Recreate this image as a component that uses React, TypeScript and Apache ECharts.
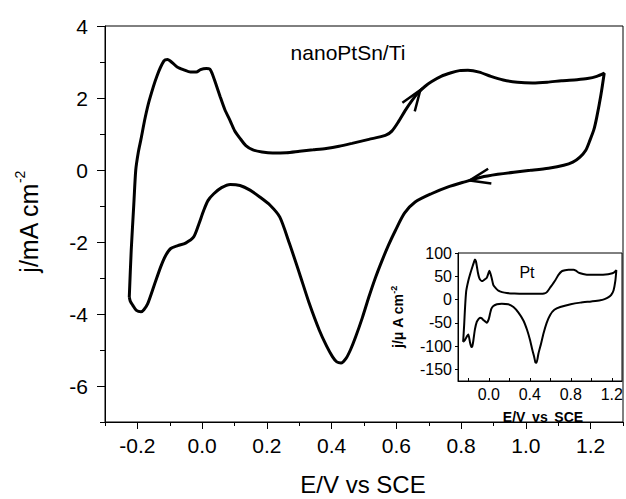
import React, { useEffect, useRef } from "react";
import * as echarts from "echarts";

// Main cyclic voltammogram (nanoPtSn/Ti), E in V vs SCE, j in mA cm^-2
const mainE = [
  -0.225, -0.219, -0.211, -0.205, -0.197, -0.189, -0.176, -0.163, -0.14, -0.118, -0.107, -0.092, -0.077, -0.056,
  -0.036, -0.018, -0.005, 0.013, 0.024, 0.031, 0.042, 0.056, 0.07, 0.087, 0.1, 0.117, 0.135, 0.157, 0.185, 0.218,
  0.26, 0.301, 0.343, 0.383, 0.423, 0.463, 0.515, 0.566, 0.586, 0.607, 0.627, 0.648, 0.668, 0.688, 0.708, 0.738,
  0.769, 0.795, 0.821, 0.856, 0.892, 0.93, 0.974, 1.02, 1.066, 1.11, 1.158, 1.19, 1.219, 1.242,
  1.232, 1.219, 1.21, 1.198, 1.185, 1.167, 1.145, 1.117, 1.07, 1.014, 0.963, 0.913, 0.862, 0.811, 0.76, 0.708,
  0.658, 0.625, 0.597, 0.576, 0.556, 0.535, 0.515, 0.495, 0.474, 0.458, 0.444, 0.429, 0.416, 0.403, 0.385, 0.362,
  0.33, 0.301, 0.27, 0.24, 0.21, 0.178, 0.148, 0.117, 0.087, 0.06, 0.036, 0.018, 0.005, -0.01, -0.026, -0.051,
  -0.075, -0.097, -0.113, -0.128, -0.148, -0.168, -0.18, -0.189, -0.203, -0.214, -0.222, -0.225,
];
const mainJ = [
  -3.53, -2.23, -0.95, 0.0, 0.5, 0.85, 1.45, 1.94, 2.6, 3.03, 3.07, 2.98, 2.86, 2.78,
  2.72, 2.72, 2.79, 2.82, 2.8, 2.68, 2.4, 2.03, 1.68, 1.36, 1.1, 0.88, 0.68, 0.56, 0.5, 0.47,
  0.48, 0.52, 0.56, 0.6, 0.66, 0.74, 0.85, 0.96, 1.08, 1.35, 1.65, 1.93, 2.15, 2.32, 2.45, 2.6,
  2.7, 2.76, 2.77, 2.72, 2.6, 2.5, 2.44, 2.42, 2.44, 2.48, 2.51, 2.54, 2.6, 2.69,
  2.1, 1.47, 1.12, 0.83, 0.55, 0.36, 0.22, 0.13, 0.05, -0.01, -0.06, -0.12, -0.2, -0.33, -0.47, -0.66,
  -0.89, -1.2, -1.68, -2.08, -2.51, -3.0, -3.53, -4.1, -4.64, -5.0, -5.24, -5.36, -5.33, -5.19, -4.9, -4.45,
  -3.68, -2.88, -2.05, -1.31, -0.98, -0.75, -0.56, -0.43, -0.4, -0.49, -0.66, -0.85, -1.12, -1.5, -1.86, -2.03,
  -2.1, -2.18, -2.38, -2.69, -3.2, -3.71, -3.88, -3.94, -3.9, -3.76, -3.64, -3.53,
];

// Inset: Pt electrode, E in V vs SCE, j in µA cm^-2
const insetE = [
  -0.25, -0.24, -0.232, -0.22, -0.2, -0.18, -0.16, -0.145, -0.135, -0.125, -0.115, -0.105, -0.095, -0.085,
  -0.07, -0.059, -0.04, -0.019, -0.005, 0.006, 0.018, 0.029, 0.045, 0.07, 0.094, 0.13, 0.176, 0.25, 0.338,
  0.42, 0.502, 0.54, 0.567, 0.6, 0.648, 0.68, 0.714, 0.745, 0.778, 0.81, 0.827, 0.85, 0.876, 0.92, 0.958,
  1.02, 1.088, 1.14, 1.186, 1.22, 1.245,
  1.235, 1.218, 1.195, 1.169, 1.13, 1.088, 1.0, 0.893, 0.8, 0.697, 0.64, 0.599, 0.565, 0.534, 0.51, 0.485,
  0.475, 0.465, 0.455, 0.443, 0.425, 0.404, 0.375, 0.338, 0.29, 0.241, 0.19, 0.127, 0.08, 0.045, 0.025,
  0.013, 0.0, -0.019, -0.035, -0.053, -0.07, -0.085, -0.1, -0.117, -0.135, -0.15, -0.16, -0.17, -0.183,
  -0.199, -0.21, -0.22, -0.235, -0.25,
];
const insetJ = [
  -91, -55, -20, 18, 40, 56, 70, 80, 86, 82, 70, 57, 48, 43,
  40, 40, 43, 47, 55, 62, 55, 46, 31, 24, 19, 16, 14, 13, 12.5,
  12.5, 12.5, 13, 16, 26, 41, 53, 61, 63, 64, 64, 64, 62, 58, 55, 53.5,
  53.5, 53.5, 54, 55.5, 58, 63,
  40, 20, 10, 5, 1, -1.6, -4, -6.6, -10, -16, -22, -33, -50, -73, -95, -116,
  -128, -136, -135, -123, -108, -88, -66, -45, -28, -16, -10, -9, -10, -14, -20,
  -30, -42, -50, -47, -44, -40, -39, -42, -48, -64, -88, -100, -102, -92,
  -75, -78, -82, -88, -91,
];

// Tick/label values
const mainXTickValues = [-0.2, 0, 0.2, 0.4, 0.6, 0.8, 1.0, 1.2];
const mainYTickValues = [-6, -4, -2, 0, 2, 4];
const insetXTickValues = [-0.2, 0, 0.2, 0.4, 0.6, 0.8, 1.0, 1.2];
const insetXLabelValues = [0, 0.4, 0.8, 1.2];
const insetYTickValues = [-150, -100, -50, 0, 50, 100];

// Scan-direction arrows: tip and a point behind it on the curve
const arrowTipE = [0.674, 0.826];
const arrowTipJ = [2.22, -0.29];
const arrowTailE = [0.627, 0.913];
const arrowTailJ = [1.61, -0.12];

const FONT = "'Liberation Sans', Arial, sans-serif";

export default function App() {
  const ref = useRef<HTMLDivElement>(null);

  useEffect(() => {
    if (!ref.current) return;
    const chart = echarts.init(ref.current, undefined, { renderer: "svg" });

    const mainData = mainE.map((e, i) => [e, mainJ[i]]);
    const insetData = insetE.map((e, i) => [e, insetJ[i]]);

    const axisLine = { show: true, onZero: false, lineStyle: { color: "#000", width: 1 } };
    const noLine = { show: false, onZero: false };

    const option: any = {
      animation: false,
      backgroundColor: "#fff",
      grid: [
        { left: 105, top: 26, width: 521, height: 396, show: true, borderColor: "#000", borderWidth: 1, backgroundColor: "transparent" },
        { left: 458, top: 253, width: 164, height: 128, show: true, borderColor: "#000", borderWidth: 1, backgroundColor: "#fff" },
      ],
      xAxis: [
        {
          type: "value", gridIndex: 0, min: -0.3, max: 1.3, interval: 0.1, position: "bottom",
          axisLine, splitLine: { show: false },
          axisTick: { show: true, length: 4, inside: false, lineStyle: { color: "#000" } },
          axisLabel: {
            show: true, margin: 13, color: "#000", fontFamily: FONT, fontSize: 21,
            formatter: (v: number) => {
              const k = Math.round(v * 10);
              return k % 2 === 0 && k >= -2 && k <= 12 ? (k / 10).toFixed(1) : "";
            },
          },
        },
        {
          type: "value", gridIndex: 0, min: -0.3, max: 1.3, position: "bottom", offset: 0,
          axisLine: noLine, splitLine: { show: false }, axisLabel: { show: false },
          axisTick: { show: true, length: 7, customValues: mainXTickValues, lineStyle: { color: "#000" } },
        },
        {
          type: "value", gridIndex: 1, min: -0.3, max: 1.3, position: "bottom",
          axisLine, splitLine: { show: false },
          axisTick: { show: true, inside: true, length: 3, customValues: insetXTickValues, lineStyle: { color: "#000" } },
          axisLabel: {
            show: true, margin: 5, color: "#000", fontFamily: FONT, fontSize: 16,
            customValues: insetXLabelValues,
            formatter: (v: number) => v.toFixed(1),
          },
        },
      ],
      yAxis: [
        {
          type: "value", gridIndex: 0, min: -7, max: 4, interval: 1, position: "left",
          axisLine, splitLine: { show: false },
          axisTick: { show: true, length: 5, lineStyle: { color: "#000" } },
          axisLabel: {
            show: true, margin: 17, color: "#000", fontFamily: FONT, fontSize: 21,
            formatter: (v: number) => (Math.round(v) % 2 === 0 ? String(Math.round(v)) : ""),
          },
        },
        {
          type: "value", gridIndex: 0, min: -7, max: 4, position: "left", offset: 0,
          axisLine: noLine, splitLine: { show: false }, axisLabel: { show: false },
          axisTick: { show: true, length: 8, customValues: mainYTickValues, lineStyle: { color: "#000" } },
        },
        {
          type: "value", gridIndex: 1, min: -175, max: 100, position: "left",
          axisLine, splitLine: { show: false },
          axisTick: { show: true, length: 3, customValues: insetYTickValues, lineStyle: { color: "#000" } },
          axisLabel: {
            show: true, margin: 6, color: "#000", fontFamily: FONT, fontSize: 16,
            customValues: insetYTickValues,
          },
        },
      ],
      series: [
        {
          type: "line", xAxisIndex: 0, yAxisIndex: 0, data: mainData,
          showSymbol: false, smooth: 0.25, lineStyle: { color: "#000", width: 3 }, z: 3,
        },
        {
          type: "line", xAxisIndex: 2, yAxisIndex: 2, data: insetData,
          showSymbol: false, smooth: 0.2, lineStyle: { color: "#000", width: 2 }, z: 5,
        },
      ],
    };

    chart.setOption(option);

    const arrows: any[] = arrowTipE.map((e, i) => {
      const tip = chart.convertToPixel({ xAxisIndex: 0, yAxisIndex: 0 } as any, [e, arrowTipJ[i]]) as number[];
      const tail = chart.convertToPixel({ xAxisIndex: 0, yAxisIndex: 0 } as any, [arrowTailE[i], arrowTailJ[i]]) as number[];
      const ang = Math.atan2(tail[1] - tip[1], tail[0] - tip[0]);
      const len = 22;
      const spread = (20 * Math.PI) / 180;
      const b1 = [tip[0] + len * Math.cos(ang - spread), tip[1] + len * Math.sin(ang - spread)];
      const b2 = [tip[0] + len * Math.cos(ang + spread), tip[1] + len * Math.sin(ang + spread)];
      return {
        type: "polyline",
        shape: { points: [b1, tip, b2] },
        style: { stroke: "#000", lineWidth: 2.5, fill: null },
        z: 10,
      };
    });

    chart.setOption({
      graphic: [
        ...arrows,
        {
          type: "text", x: 348, y: 52, z: 10,
          style: { text: "nanoPtSn/Ti", font: `21px ${FONT}`, fill: "#000", align: "center", verticalAlign: "middle" },
        },
        {
          type: "text", x: 527, y: 272, z: 10,
          style: { text: "Pt", font: `16px ${FONT}`, fill: "#000", align: "center", verticalAlign: "middle" },
        },
        {
          type: "text", x: 363, y: 484, z: 10,
          style: { text: "E/V vs SCE", font: `24px ${FONT}`, fill: "#000", align: "center", verticalAlign: "middle" },
        },
        {
          type: "text", x: 543, y: 417, z: 10,
          style: { text: "E/V\u2009 vs\u2009 SCE", font: `bold 14px ${FONT}`, fill: "#000", align: "center", verticalAlign: "middle" },
        },
        {
          type: "text", x: 27, y: 222, rotation: Math.PI / 2, z: 10,
          style: {
            text: "{m|j/mA cm}{s|-2}", align: "center", verticalAlign: "middle", fill: "#000",
            rich: {
              m: { fontFamily: FONT, fontSize: 25, lineHeight: 28, verticalAlign: "bottom", fill: "#000" },
              s: { fontFamily: FONT, fontSize: 14, lineHeight: 16, verticalAlign: "top", fill: "#000" },
            },
          },
        },
        {
          type: "text", x: 397, y: 317, rotation: Math.PI / 2, z: 10,
          style: {
            text: "{m|j/\u03bc A cm}{s|-2}", align: "center", verticalAlign: "middle", fill: "#000",
            rich: {
              m: { fontFamily: FONT, fontSize: 14, fontWeight: "bold", lineHeight: 16, verticalAlign: "bottom", fill: "#000" },
              s: { fontFamily: FONT, fontSize: 9, fontWeight: "bold", lineHeight: 10, verticalAlign: "top", fill: "#000" },
            },
          },
        },
      ],
    });

    return () => chart.dispose();
  }, []);

  return (
    <div
      ref={ref}
      style={{ position: "fixed", left: 0, top: 0, width: 626, height: 499, background: "#fff" }}
    />
  );
}
